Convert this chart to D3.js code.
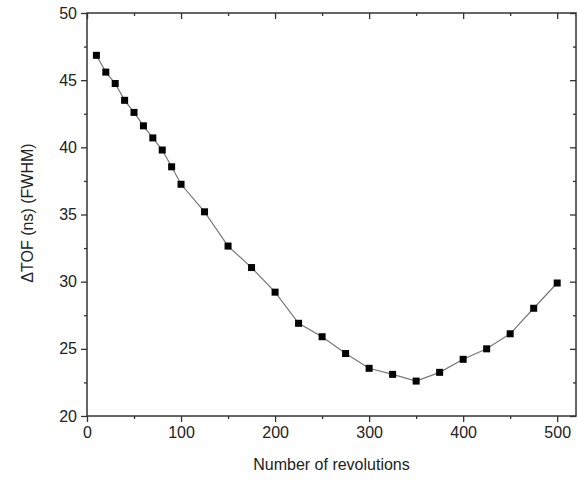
<!DOCTYPE html>
<html>
<head>
<meta charset="utf-8">
<script src="https://cdn.jsdelivr.net/npm/d3@7"></script>
<style>
  body { margin: 0; background: #fff; }
  text { font-family: "Liberation Sans", Arial, sans-serif; fill: #222; }
</style>
</head>
<body>
<svg id="chart" width="578" height="483"></svg>
<script>
// revolutions and measured FWHM of the TOF peak
var revolutions = [10, 20, 30, 40, 50, 60, 70, 80, 90, 100, 125, 150, 175, 200,
                   225, 250, 275, 300, 325, 350, 375, 400, 425, 450, 475, 500];
var dtof = [46.85, 45.6, 44.75, 43.5, 42.6, 41.6, 40.7, 39.8, 38.55, 37.25, 35.2, 32.65, 31.05, 29.22,
            26.9, 25.9, 24.65, 23.55, 23.1, 22.6, 23.25, 24.22, 25.0, 26.12, 28.02, 29.9];
var xTicks = [0, 100, 200, 300, 400, 500];
var yTicks = [20, 25, 30, 35, 40, 45, 50];

var svg = d3.select('#chart');
var margin = {top: 13, right: 2, bottom: 67, left: 87};
var width = 578 - margin.left - margin.right;
var height = 483 - margin.top - margin.bottom;
var frameColor = '#333';

var g = svg.append('g')
    .attr('transform', 'translate(' + margin.left + ',' + margin.top + ')');

var x = d3.scaleLinear().domain([0, 520]).range([0, width]);
var y = d3.scaleLinear().domain([20, 50]).range([height, 0]);

var minorX = d3.range(50, 520, 100);
var minorY = d3.range(22.5, 50, 5);

function styleAxis(sel) {
    sel.select('.domain').remove();
    sel.selectAll('line').attr('stroke', frameColor).attr('stroke-width', 1.3);
    sel.selectAll('text').style('font-size', '16px').attr('fill', '#222');
}

// bottom / left: outward ticks with labels
g.append('g').attr('transform', 'translate(0,' + height + ')')
    .call(d3.axisBottom(x).tickValues(xTicks).tickSize(6).tickPadding(5))
    .call(styleAxis);
g.append('g').attr('transform', 'translate(0,' + height + ')')
    .call(d3.axisBottom(x).tickValues(minorX).tickSize(3).tickFormat(''))
    .call(styleAxis);
g.append('g')
    .call(d3.axisLeft(y).tickValues(yTicks).tickSize(6).tickPadding(4))
    .call(styleAxis);
g.append('g')
    .call(d3.axisLeft(y).tickValues(minorY).tickSize(3).tickFormat(''))
    .call(styleAxis);

// top / right: inward ticks, no labels
g.append('g')
    .call(d3.axisTop(x).tickValues(xTicks).tickSize(-6).tickFormat(''))
    .call(styleAxis);
g.append('g')
    .call(d3.axisTop(x).tickValues(minorX).tickSize(-3).tickFormat(''))
    .call(styleAxis);
g.append('g').attr('transform', 'translate(' + width + ',0)')
    .call(d3.axisRight(y).tickValues(yTicks).tickSize(-6).tickFormat(''))
    .call(styleAxis);
g.append('g').attr('transform', 'translate(' + width + ',0)')
    .call(d3.axisRight(y).tickValues(minorY).tickSize(-3).tickFormat(''))
    .call(styleAxis);

// frame
g.append('rect')
    .attr('width', width).attr('height', height)
    .attr('fill', 'none').attr('stroke', frameColor).attr('stroke-width', 1.5);

var pts = revolutions.map(function(d, i) { return {x: d, y: dtof[i]}; });

var line = d3.line()
    .x(function(d) { return x(d.x); })
    .y(function(d) { return y(d.y); });

g.append('path')
    .datum(pts)
    .attr('d', line)
    .attr('fill', 'none')
    .attr('stroke', '#777')
    .attr('stroke-width', 1.2);

var s = 7;
g.selectAll('rect.pt')
    .data(pts)
    .enter().append('rect')
        .attr('class', 'pt')
        .attr('x', function(d) { return x(d.x) - s / 2; })
        .attr('y', function(d) { return y(d.y) - s / 2; })
        .attr('width', s)
        .attr('height', s)
        .attr('fill', '#000');

// axis titles
svg.append('text')
    .attr('x', margin.left + x(260))
    .attr('y', 470)
    .attr('text-anchor', 'middle')
    .style('font-size', '16px')
    .text('Number of revolutions');

svg.append('text')
    .attr('transform', 'translate(33,213) rotate(-90)')
    .attr('text-anchor', 'middle')
    .style('font-size', '16px')
    .text('ΔTOF (ns) (FWHM)');
</script>
</body>
</html>
